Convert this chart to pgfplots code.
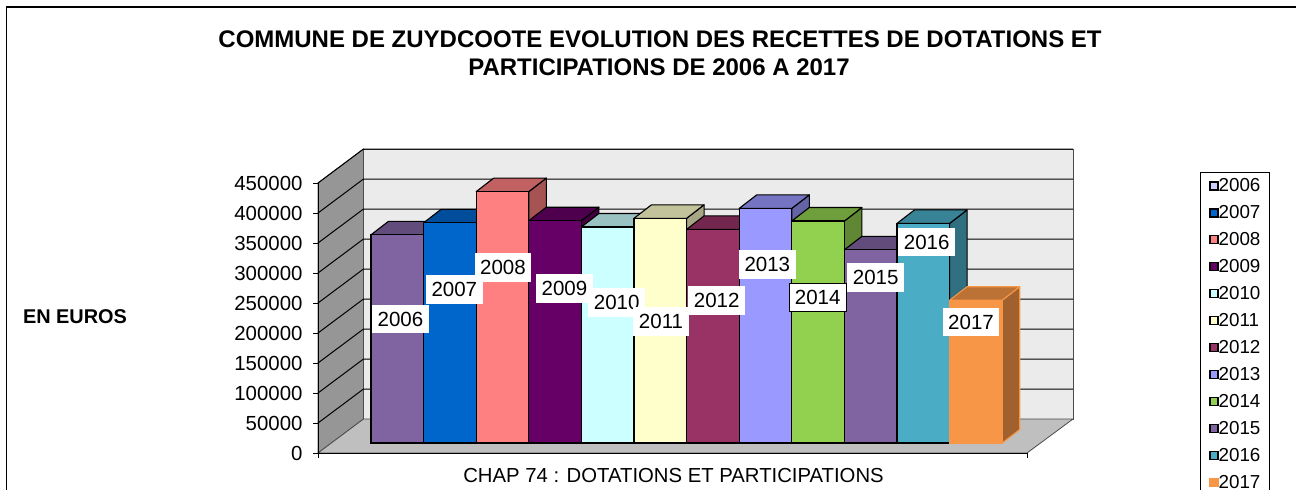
\documentclass[border=0pt]{standalone}
\usepackage{pgfplots}
\pgfplotsset{compat=1.18}
\usepackage{fontspec}
\setmainfont{Liberation Sans}
\definecolor{c06}{HTML}{8064A2}
\definecolor{c07}{HTML}{0066CC}
\definecolor{c08}{HTML}{FF8080}
\definecolor{c09}{HTML}{660066}
\definecolor{c10}{HTML}{CCFFFF}
\definecolor{c11}{HTML}{FFFFCC}
\definecolor{c12}{HTML}{993366}
\definecolor{c13}{HTML}{9999FF}
\definecolor{c14}{HTML}{92D050}
\definecolor{c15}{HTML}{8064A2}
\definecolor{c16}{HTML}{4BACC6}
\definecolor{c17}{HTML}{F79646}
\definecolor{lav}{HTML}{CCCCFF}
% one 3D column: left x (px), value, colour, outline
\newcommand\Col[4]{%
  \pgfmathsetmacro\xa{#1}%
  \pgfmathsetmacro\xb{#1+52.6}%
  \pgfmathsetmacro\xc{#1+26.3}%
  \pgfmathsetmacro\xd{#1+52.6+17.5}%
  \pgfmathsetmacro\xe{#1+17.5}%
  \edef\yd{\the\numexpr#2+22500\relax}%
  \edef\tmp{%
   \noexpand\addplot[forget plot,fill=#3!65!black,draw=#4,line width=1.1pt,line join=round] coordinates {(\xb,0) (\xb,#2) (\xd,\yd) (\xd,22500)} -- cycle;
   \noexpand\addplot[forget plot,fill=#3!76!black,draw=#4,line width=1.1pt,line join=round] coordinates {(\xa,#2) (\xb,#2) (\xd,\yd) (\xe,\yd)} -- cycle;
   \noexpand\addplot[forget plot,ybar,bar width=52.6pt,fill=#3,draw=#4,line width=1.1pt] coordinates {(\xc,#2)};
  }\tmp}
\newcommand\Lab[3]{\node[fill=white,minimum width=56.6pt,minimum height=28.7pt,inner sep=0pt,font=\fontsize{20.5pt}{22pt}\selectfont,#3] at (#1pt,{(490-#2)*1pt}) {\year};}
\newcommand\LegImg[2]{\addlegendimage{legend image code/.code={\draw[fill=#1,draw=#2,line width=1.2pt] (0pt,-4pt) rectangle (8pt,4pt);}}}
\begin{document}
\begin{tikzpicture}[x=1pt,y=1pt]
\path[use as bounding box,clip] (0,0) rectangle (1296,490);
\fill[white] (0,0) rectangle (1296,490);
% pixel-coordinate layer: walls, floor, gridlines
\begin{axis}[at={(0pt,0pt)},anchor=south west,scale only axis,width=1296pt,height=490pt,
  xmin=0,xmax=1296,ymin=0,ymax=490,y dir=reverse,hide axis,clip=false]
\addplot[forget plot,fill=white,draw=black,line width=1.1pt] coordinates {(6.5,495) (6.5,7) (1300,7) (1300,495)};
\addplot[forget plot,fill=black!41,draw=black!70,line width=0.8pt] coordinates {(318,183) (363.5,149) (363.5,419) (318,453)} -- cycle;
\addplot[forget plot,fill=black!8,draw=black!70,line width=0.8pt] coordinates {(363.5,149) (1073,149) (1073,419) (363.5,419)} -- cycle;
\addplot[forget plot,fill=black!25,draw=black!70,line width=0.8pt] coordinates {(318,453) (363.5,419) (1073,419) (1027,453)} -- cycle;
\pgfplotsinvokeforeach{1,...,9}{
  \addplot[forget plot,black,line width=1pt] coordinates {({318},{453-#1*30}) ({363.5},{419-#1*30}) ({1073},{419-#1*30})};
}
\end{axis}
% columns: y = 0 at pixel 443, 0.6 px per 1000
\begin{axis}[at={(0pt,0pt)},anchor=south west,scale only axis,width=1296pt,height=490pt,
  xmin=0,xmax=1296,ymin=-78333.3,ymax=738333.3,hide axis,clip=false]
\Col{371.0}{347000}{c06}{black}
\Col{423.6}{367000}{c07}{black}
\Col{476.2}{419000}{c08}{black}
\Col{528.8}{370500}{c09}{black}
\Col{581.4}{360000}{c10}{black}
\Col{634.0}{374500}{c11}{black}
\Col{686.6}{356000}{c12}{black}
\Col{739.2}{391000}{c13}{black}
\Col{791.8}{370000}{c14}{black}
\Col{844.4}{322000}{c15}{black}
\Col{897.0}{366000}{c16}{black}
\Col{949.6}{238000}{c17}{c17}
\end{axis}
% value axis in front
\begin{axis}[at={(318pt,37pt)},anchor=south west,scale only axis,width=709pt,height=270pt,
  xmin=0,xmax=1,ymin=0,ymax=450000,
  axis x line*=bottom,axis y line*=left,axis line style={black,line width=1pt,-},
  xtick={0,1},xticklabels={},ytick={0,50000,...,450000},
  tick style={black,line width=1pt},major tick length=5pt,
  tick align=outside,
  scaled y ticks=false,
  yticklabel style={font=\fontsize{20.4pt}{22pt}\selectfont,/pgf/number format/assume math mode=true,/pgf/number format/fixed,/pgf/number format/1000 sep={},xshift=-7pt},
  clip=false]
\addplot[forget plot,draw=none] coordinates {(0,0) (1,450000)};
\end{axis}
% legend
\begin{axis}[at={(0pt,0pt)},anchor=south west,scale only axis,width=1296pt,height=490pt,
  xmin=0,xmax=1296,ymin=0,ymax=490,y dir=reverse,hide axis,clip=false,
  legend style={at={(axis cs:1200,172.3)},anchor=north west,draw=black,line width=0.8pt,fill=white,
    font=\fontsize{18.8pt}{20pt}\selectfont,row sep=12.3pt,inner xsep=9pt,inner ysep=6pt,
    nodes={inner sep=0pt,anchor=west},/tikz/every even column/.append style={column sep=4.5pt}},
  legend cell align=left]
\LegImg{lav}{black}\addlegendentry{2006}
\LegImg{c07}{black}\addlegendentry{2007}
\LegImg{c08}{black}\addlegendentry{2008}
\LegImg{c09}{black}\addlegendentry{2009}
\LegImg{c10}{black}\addlegendentry{2010}
\LegImg{c11}{black}\addlegendentry{2011}
\LegImg{c12}{black}\addlegendentry{2012}
\LegImg{c13}{black}\addlegendentry{2013}
\LegImg{c14}{black}\addlegendentry{2014}
\LegImg{c15}{black}\addlegendentry{2015}
\LegImg{c16}{black}\addlegendentry{2016}
\LegImg{c17}{c17}\addlegendentry{2017}
\end{axis}
% data labels
\def\year{2006}\Lab{400.5}{319}{}
\def\year{2007}\Lab{454.3}{289.2}{}
\def\year{2008}\Lab{503}{267.8}{}
\def\year{2009}\Lab{564.5}{288.2}{}
\def\year{2010}\Lab{616.7}{302.7}{}
\def\year{2011}\Lab{661}{321.7}{}
\def\year{2012}\Lab{716.7}{300.5}{}
\def\year{2013}\Lab{767.3}{264.8}{}
\def\year{2014}\Lab{817.7}{297.5}{draw=black,line width=0.7pt}
\def\year{2015}\Lab{875.7}{277.5}{}
\def\year{2016}\Lab{926.7}{242}{}
\def\year{2017}\Lab{971}{322}{}
% titles
\node[font=\fontsize{24pt}{26pt}\bfseries\selectfont,inner sep=0pt] at (660,{490-39.5}) {COMMUNE DE ZUYDCOOTE EVOLUTION DES RECETTES DE DOTATIONS ET};
\node[font=\fontsize{24pt}{26pt}\bfseries\selectfont,inner sep=0pt] at (659,{490-67.5}) {PARTICIPATIONS DE 2006 A 2017};
\node[font=\fontsize{19.9pt}{22pt}\bfseries\selectfont,inner sep=0pt] at (75,{490-316.5}) {EN EUROS};
\node[font=\fontsize{20.3pt}{22pt}\selectfont,inner sep=0pt] at (673.5,{490-476}) {CHAP 74 : DOTATIONS ET PARTICIPATIONS};
\end{tikzpicture}
\end{document}
